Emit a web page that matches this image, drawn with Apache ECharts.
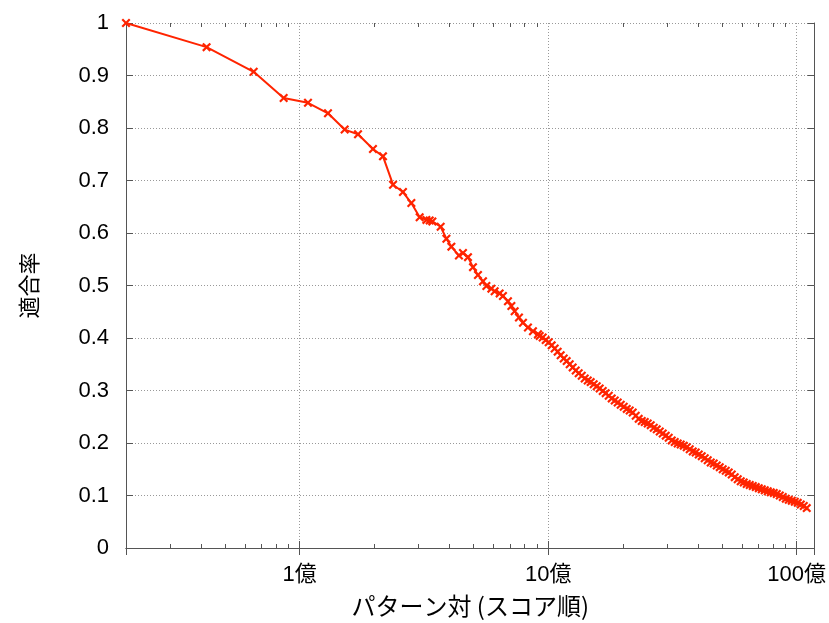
<!DOCTYPE html>
<html><head><meta charset="utf-8">
<script src="https://cdn.jsdelivr.net/npm/echarts@6/dist/echarts.min.js"></script>
<style>html,body{margin:0;padding:0;background:#fff}#c{width:829px;height:623px}</style>
</head><body><div id="c"></div>
<script>
// x: パターン対 (単位: 億), y: 適合率
const xValues = [0.2,0.422,0.653,0.862,1.080,1.300,1.517,1.717,1.972,2.164,2.375,2.604,2.815,3.040,3.235,3.336,3.420,3.693,3.894,4.078,4.375,4.541,4.757,4.982,5.218,5.466,5.641,5.907,6.091,6.379,6.577,6.890,7.111,7.332,7.630,7.918,8.293,8.686,9.100,
  9.243,9.504,9.772,10.05,10.33,10.62,10.92,11.23,11.55,11.87,
  12.21,12.55,12.91,13.27,13.65,14.03,14.43,14.83,15.25,15.68,
  16.12,16.58,17.04,17.53,18.02,18.53,19.05,19.59,20.14,20.71,
  21.29,21.89,22.51,23.14,23.80,24.47,25.16,25.87,26.60,27.35,
  28.12,28.91,29.73,30.56,31.43,32.31,33.22,34.16,35.12,36.11,
  37.13,38.18,39.25,40.36,41.50,42.67,43.87,45.11,46.38,47.69,
  49.03,50.41,51.84,53.30,54.80,56.35,57.93,59.57,61.25,62.97,
  64.75,66.58,68.46,70.39,72.37,74.41,76.51,78.67,80.89,83.17,
  85.52,87.93,90.41,92.96,95.58,98.28,101.05,103.9,106.8,109.8];
const yValues = [1.0,0.954,0.907,0.857,0.848,0.828,0.797,0.788,0.760,0.746,0.692,0.678,0.657,0.630,0.625,0.624,0.622,0.612,0.589,0.574,0.557,0.562,0.554,0.535,0.520,0.508,0.499,0.494,0.489,0.485,0.480,0.470,0.461,0.451,0.439,0.429,0.420,0.413,0.407,
  0.404,0.401,0.396,0.392,0.386,0.380,0.374,0.367,0.361,0.356,
  0.350,0.344,0.338,0.333,0.328,0.323,0.319,0.316,0.312,0.308,
  0.304,0.299,0.295,0.290,0.285,0.281,0.277,0.273,0.269,0.265,
  0.262,0.258,0.252,0.246,0.242,0.240,0.237,0.234,0.229,0.226,
  0.222,0.218,0.214,0.210,0.205,0.202,0.199,0.197,0.195,0.192,
  0.188,0.184,0.182,0.178,0.175,0.171,0.167,0.163,0.161,0.157,
  0.154,0.150,0.147,0.144,0.140,0.135,0.131,0.127,0.125,0.122,
  0.120,0.118,0.116,0.114,0.112,0.110,0.108,0.106,0.105,0.103,
  0.100,0.097,0.094,0.092,0.090,0.088,0.086,0.083,0.080,0.076];
const xMajorTicks = [1, 10, 100];
const xTickLabels = ['1億', '10億', '100億'];
const xMinorTicks = [0.3,0.4,0.5,0.6,0.7,0.8,0.9,2,3,4,5,6,7,8,9,20,30,40,50,60,70,80,90];
const xRange = [0.2, 118];
const yTickInterval = 0.1;

const RED = '#ff2400';
const FRAME = '#555';
const XMARK = 'path://M0,1.7L1.7,0L5,3.3L8.3,0L10,1.7L6.7,5L10,8.3L8.3,10L5,6.7L1.7,10L0,8.3L3.3,5Z';

function majorLabel(v) {
  for (let i = 0; i < xMajorTicks.length; i++) {
    if (Math.abs(v - xMajorTicks[i]) / xMajorTicks[i] < 1e-6) return xTickLabels[i];
  }
  return '';
}

const chart = echarts.init(document.getElementById('c'), null, {renderer: 'canvas'});
const labelFont = {fontFamily: 'Liberation Sans, Arial, sans-serif', fontSize: 22, color: '#000'};

chart.setOption({
  animation: false,
  backgroundColor: '#fff',
  grid: {left: 126, right: 14, top: 23, bottom: 74, containLabel: false},
  xAxis: [
    {
      type: 'log', logBase: 10, min: xRange[0], max: xRange[1], position: 'bottom',
      axisLine: {show: true, lineStyle: {color: FRAME, width: 1}},
      axisTick: {show: true, inside: true, length: 7, lineStyle: {color: FRAME}},
      axisLabel: {show: true, margin: 16, formatter: majorLabel, fontFamily: 'Liberation Sans, Noto Sans CJK JP, sans-serif', fontSize: 22, color: '#000', hideOverlap: false, showMinLabel: true, showMaxLabel: true},
      splitLine: {show: true, lineStyle: {color: '#999', type: [1, 2], width: 1}},
      minorTick: {show: false},
      name: 'パターン対 (スコア順)', nameLocation: 'middle', nameGap: 46,
      nameTextStyle: {fontFamily: 'Noto Sans CJK JP', fontSize: 24, color: '#000'}
    },
    {
      type: 'log', logBase: 10, min: xRange[0], max: xRange[1], position: 'top',
      axisLine: {show: true, lineStyle: {color: FRAME, width: 1}},
      axisTick: {show: true, inside: true, length: 7, lineStyle: {color: FRAME}},
      axisLabel: {show: false}, splitLine: {show: false}
    }
  ],
  yAxis: [
    {
      type: 'value', min: 0, max: 1, interval: yTickInterval, position: 'left',
      axisLine: {show: true, lineStyle: {color: FRAME, width: 1}},
      axisTick: {show: true, inside: true, length: 7, lineStyle: {color: FRAME}},
      axisLabel: Object.assign({margin: 17}, labelFont),
      splitLine: {show: true, lineStyle: {color: '#999', type: [1, 2], width: 1}},
      name: '適合率', nameLocation: 'middle', nameGap: 86, nameRotate: 90,
      nameTextStyle: {fontFamily: 'Noto Sans CJK JP', fontSize: 22, color: '#000'}
    },
    {
      type: 'value', min: 0, max: 1, interval: yTickInterval, position: 'right',
      axisLine: {show: true, lineStyle: {color: FRAME, width: 1}},
      axisTick: {show: true, inside: true, length: 7, lineStyle: {color: FRAME}},
      axisLabel: {show: false}, splitLine: {show: false}
    }
  ],
  series: [
    {
      type: 'custom', xAxisIndex: 0, yAxisIndex: 0, silent: true, z: 1,
      data: xMinorTicks.map(v => [v, 0]),
      encode: {x: 0, y: 1},
      renderItem: function (params, api) {
        const x = api.value(0);
        const pb = api.coord([x, 0]);
        const pt = api.coord([x, 1]);
        const px = Math.round(pb[0]) + 0.5;
        return {
          type: 'group',
          children: [
            {type: 'line', shape: {x1: px, y1: pb[1], x2: px, y2: pb[1] - 4}, style: {stroke: FRAME, lineWidth: 1}},
            {type: 'line', shape: {x1: px, y1: pt[1], x2: px, y2: pt[1] + 4}, style: {stroke: FRAME, lineWidth: 1}}
          ]
        };
      }
    },
    {
      type: 'line', xAxisIndex: 0, yAxisIndex: 0, z: 3,
      data: xValues.map((x, i) => [x, yValues[i]]),
      showAllSymbol: true,
      symbol: XMARK, symbolSize: 9,
      itemStyle: {color: RED, borderWidth: 0},
      lineStyle: {color: RED, width: 2},
      emphasis: {disabled: true}
    }
  ]
});
</script>
</body></html>
